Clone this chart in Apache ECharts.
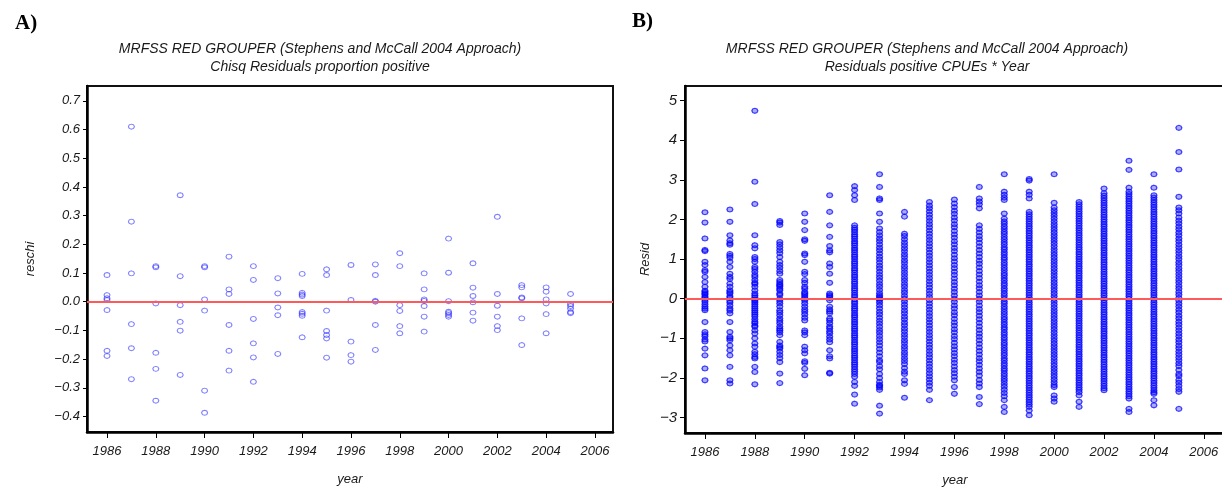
<!DOCTYPE html>
<html>
<head>
<meta charset="utf-8">
<script src="https://cdn.jsdelivr.net/npm/echarts@6/dist/echarts.min.js"></script>
<style>html,body{margin:0;padding:0;background:#fff}#c{width:1222px;height:489px}</style>
</head>
<body>
<div id="c"></div>
<script>
// ---------- DATA ----------
const years = [1986,1987,1988,1989,1990,1991,1992,1993,1994,1995,1996,1997,1998,1999,2000,2001,2002,2003,2004,2005];
const xTicks = [1986,1988,1990,1992,1994,1996,1998,2000,2002,2004,2006];
const yTicksA = [-0.4,-0.3,-0.2,-0.1,0,0.1,0.2,0.3,0.4,0.5,0.6,0.7];
const yTicksB = [-3,-2,-1,0,1,2,3,4,5];

// Panel A: chi-square residuals (proportion positive), one list per year
const reschiByYear = [
  [0.093,0.023,0.012,0.006,-0.029,-0.171,-0.189],
  [0.61,0.279,0.099,-0.078,-0.162,-0.27],
  [0.124,0.12,-0.006,-0.178,-0.234,-0.345],
  [0.371,0.089,-0.012,-0.07,-0.101,-0.255],
  [0.124,0.12,0.008,-0.031,-0.31,-0.387],
  [0.157,0.043,0.027,-0.081,-0.171,-0.24],
  [0.124,0.076,-0.06,-0.145,-0.194,-0.279],
  [0.082,0.029,-0.02,-0.047,-0.182],
  [0.097,0.031,0.025,0.02,-0.036,-0.042,-0.049,-0.124],
  [0.113,0.093,-0.031,-0.102,-0.116,-0.128,-0.195],
  [0.128,0.006,-0.139,-0.186,-0.209],
  [0.13,0.093,0.003,0.0,-0.081,-0.168],
  [0.169,0.124,-0.012,-0.032,-0.085,-0.11],
  [0.099,0.043,0.008,0.003,-0.015,-0.052,-0.104],
  [0.22,0.101,0.002,-0.035,-0.04,-0.046,-0.052],
  [0.134,0.049,0.02,-0.002,-0.038,-0.066],
  [0.296,0.027,-0.014,-0.052,-0.085,-0.099],
  [0.058,0.05,0.015,0.012,-0.058,-0.151],
  [0.05,0.035,0.008,-0.006,-0.043,-0.11],
  [0.027,-0.008,-0.015,-0.024,-0.036,-0.04]
];

// Panel B: residuals of positive CPUEs, one list per year
const residByYear = [
  [2.18,1.92,1.52,1.23,1.2,0.93,0.85,0.72,0.68,0.55,0.42,0.3,0.2,0.17,0.13,0.1,0.05,0.02,-0.03,-0.08,-0.14,-0.2,-0.25,-0.29,-0.59,-0.84,-0.9,-0.95,-1.03,-1.08,-1.26,-1.43,-1.76,-2.06],
  [2.25,1.94,1.6,1.47,1.4,1.36,1.13,1.08,1.03,0.93,0.8,0.63,0.55,0.5,0.38,0.3,0.21,0.17,0.13,0.06,0.02,-0.05,-0.1,-0.17,-0.25,-0.3,-0.37,-0.59,-0.84,-0.96,-1.0,-1.05,-1.18,-1.3,-1.43,-1.72,-2.06,-2.14],
  [4.74,2.95,2.39,1.6,1.35,1.27,1.05,1.0,0.93,0.8,0.75,0.68,0.6,0.55,0.47,0.4,0.37,0.3,0.21,0.13,0.08,0.03,-0.02,-0.06,-0.1,-0.15,-0.2,-0.25,-0.3,-0.35,-0.4,-0.45,-0.52,-0.58,-0.62,-0.68,-0.71,-0.8,-0.88,-1.0,-1.13,-1.21,-1.34,-1.4,-1.47,-1.51,-1.72,-1.85,-2.16],
  [1.96,1.92,1.86,1.43,1.37,1.3,1.22,1.15,1.05,0.93,0.85,0.78,0.7,0.63,0.47,0.42,0.37,0.34,0.3,0.25,0.21,0.13,0.09,0.0,-0.06,-0.12,-0.2,-0.29,-0.35,-0.42,-0.5,-0.56,-0.62,-0.7,-0.76,-0.8,-0.85,-0.92,-1.09,-1.18,-1.22,-1.26,-1.34,-1.42,-1.5,-1.6,-1.89,-2.13],
  [2.15,1.94,1.73,1.5,1.46,1.14,1.1,0.93,0.68,0.62,0.47,0.4,0.3,0.25,0.17,0.13,0.09,0.04,0.0,-0.05,-0.12,-0.2,-0.27,-0.33,-0.4,-0.48,-0.55,-0.8,-0.85,-0.92,-1.21,-1.3,-1.38,-1.58,-1.62,-1.77,-1.93],
  [2.61,2.19,1.85,1.56,1.33,1.22,1.17,0.89,0.8,0.63,0.4,0.13,0.09,0.06,0.02,-0.04,-0.2,-0.27,-0.32,-0.37,-0.5,-0.55,-0.62,-0.7,-0.75,-0.82,-0.88,-0.96,-1.03,-1.1,-1.3,-1.45,-1.51,-1.87,-1.89],
  [2.84,2.74,2.61,2.49,1.85,1.79,1.74,1.68,1.62,1.57,1.51,1.45,1.4,1.34,1.28,1.23,1.17,1.11,1.06,1.0,0.94,0.89,0.83,0.77,0.72,0.66,0.6,0.55,0.49,0.43,0.38,0.32,0.26,0.21,0.15,0.09,0.04,-0.02,-0.08,-0.13,-0.19,-0.25,-0.3,-0.36,-0.42,-0.47,-0.53,-0.59,-0.64,-0.7,-0.76,-0.81,-0.87,-0.93,-0.98,-1.04,-1.1,-1.15,-1.21,-1.27,-1.32,-1.38,-1.44,-1.49,-1.55,-1.61,-1.66,-1.72,-1.78,-1.84,-1.9,-1.97,-2.1,-2.2,-2.42,-2.65],
  [3.14,2.82,2.53,2.49,2.15,1.94,1.77,1.68,1.6,1.52,1.45,1.37,1.29,1.22,1.14,1.06,0.99,0.91,0.83,0.76,0.68,0.6,0.53,0.45,0.37,0.3,0.22,0.14,0.08,0.04,0.0,-0.04,-0.1,-0.17,-0.25,-0.33,-0.4,-0.48,-0.56,-0.63,-0.71,-0.79,-0.86,-0.94,-1.02,-1.1,-1.18,-1.27,-1.36,-1.45,-1.55,-1.6,-1.7,-1.78,-1.9,-2.0,-2.1,-2.17,-2.2,-2.24,-2.3,-2.7,-2.9],
  [2.19,2.07,1.64,1.58,1.5,1.42,1.35,1.27,1.2,1.12,1.05,0.97,0.9,0.82,0.75,0.67,0.6,0.52,0.45,0.37,0.3,0.22,0.15,0.07,0.0,-0.07,-0.15,-0.22,-0.3,-0.37,-0.45,-0.52,-0.6,-0.67,-0.75,-0.82,-0.9,-0.97,-1.05,-1.12,-1.2,-1.27,-1.35,-1.42,-1.5,-1.57,-1.65,-1.75,-1.84,-1.9,-2.06,-2.15,-2.5],
  [2.44,2.35,2.28,2.2,2.12,2.04,1.96,1.88,1.8,1.72,1.64,1.56,1.48,1.4,1.32,1.24,1.16,1.08,1.0,0.92,0.84,0.76,0.68,0.6,0.52,0.44,0.36,0.28,0.2,0.12,0.04,-0.04,-0.12,-0.2,-0.28,-0.36,-0.44,-0.52,-0.6,-0.68,-0.76,-0.84,-0.92,-1.0,-1.08,-1.16,-1.24,-1.32,-1.4,-1.48,-1.56,-1.64,-1.72,-1.8,-1.88,-1.96,-2.04,-2.12,-2.2,-2.3,-2.56],
  [2.5,2.4,2.31,2.22,2.14,2.05,1.97,1.88,1.8,1.71,1.62,1.54,1.45,1.37,1.28,1.2,1.11,1.02,0.94,0.85,0.77,0.68,0.6,0.51,0.42,0.34,0.25,0.17,0.08,0.0,-0.08,-0.17,-0.25,-0.34,-0.42,-0.51,-0.6,-0.68,-0.77,-0.85,-0.94,-1.02,-1.11,-1.2,-1.28,-1.37,-1.45,-1.54,-1.62,-1.71,-1.8,-1.88,-1.97,-2.06,-2.23,-2.4],
  [2.82,2.53,2.45,2.38,2.28,1.85,1.76,1.67,1.58,1.5,1.41,1.32,1.23,1.14,1.05,0.96,0.88,0.79,0.7,0.61,0.52,0.43,0.34,0.26,0.17,0.08,0.0,-0.08,-0.17,-0.26,-0.34,-0.43,-0.52,-0.61,-0.7,-0.79,-0.88,-0.96,-1.05,-1.14,-1.23,-1.32,-1.41,-1.5,-1.58,-1.67,-1.76,-1.85,-1.94,-2.05,-2.14,-2.23,-2.48,-2.66],
  [3.14,2.7,2.62,2.55,2.49,2.15,2.02,1.95,1.89,1.82,1.76,1.69,1.63,1.56,1.5,1.43,1.37,1.3,1.24,1.17,1.11,1.04,0.98,0.91,0.85,0.78,0.72,0.65,0.59,0.52,0.46,0.39,0.33,0.26,0.2,0.13,0.07,0.0,-0.07,-0.13,-0.2,-0.26,-0.33,-0.39,-0.46,-0.52,-0.59,-0.65,-0.72,-0.78,-0.85,-0.91,-0.98,-1.04,-1.11,-1.17,-1.24,-1.3,-1.37,-1.43,-1.5,-1.56,-1.63,-1.69,-1.76,-1.82,-1.89,-1.95,-2.02,-2.08,-2.15,-2.22,-2.3,-2.38,-2.46,-2.56,-2.73,-2.86],
  [3.02,2.98,2.7,2.62,2.53,2.19,2.13,2.07,2.01,1.95,1.89,1.83,1.77,1.71,1.65,1.59,1.53,1.47,1.41,1.35,1.29,1.23,1.17,1.11,1.05,0.99,0.93,0.87,0.81,0.75,0.69,0.63,0.57,0.51,0.45,0.39,0.33,0.27,0.21,0.15,0.09,0.03,-0.03,-0.09,-0.15,-0.21,-0.27,-0.33,-0.39,-0.45,-0.51,-0.57,-0.63,-0.69,-0.75,-0.81,-0.87,-0.93,-0.99,-1.05,-1.11,-1.17,-1.23,-1.29,-1.35,-1.41,-1.47,-1.53,-1.59,-1.65,-1.71,-1.77,-1.83,-1.89,-1.95,-2.01,-2.07,-2.13,-2.19,-2.25,-2.31,-2.37,-2.43,-2.49,-2.55,-2.61,-2.67,-2.73,-2.82,-2.94],
  [3.14,2.42,2.3,2.23,2.16,2.09,2.02,1.95,1.88,1.81,1.74,1.67,1.6,1.53,1.46,1.39,1.32,1.25,1.18,1.11,1.04,0.97,0.9,0.83,0.76,0.69,0.62,0.55,0.48,0.41,0.34,0.27,0.2,0.13,0.06,-0.01,-0.08,-0.15,-0.22,-0.29,-0.36,-0.43,-0.5,-0.57,-0.64,-0.71,-0.78,-0.85,-0.92,-0.99,-1.06,-1.13,-1.2,-1.27,-1.34,-1.41,-1.48,-1.55,-1.62,-1.69,-1.76,-1.83,-1.9,-1.97,-2.04,-2.11,-2.18,-2.23,-2.44,-2.52,-2.6],
  [2.44,2.38,2.32,2.26,2.2,2.14,2.08,2.02,1.96,1.9,1.84,1.78,1.72,1.66,1.6,1.54,1.48,1.42,1.36,1.3,1.24,1.18,1.12,1.06,1.0,0.94,0.88,0.82,0.76,0.7,0.64,0.58,0.52,0.46,0.4,0.34,0.28,0.22,0.16,0.1,0.04,-0.02,-0.08,-0.14,-0.2,-0.26,-0.32,-0.38,-0.44,-0.5,-0.56,-0.62,-0.68,-0.74,-0.8,-0.86,-0.92,-0.98,-1.04,-1.1,-1.16,-1.22,-1.28,-1.34,-1.4,-1.46,-1.52,-1.58,-1.64,-1.7,-1.76,-1.82,-1.88,-1.94,-2.0,-2.06,-2.12,-2.18,-2.24,-2.3,-2.36,-2.44,-2.6,-2.73],
  [2.78,2.66,2.6,2.54,2.48,2.42,2.36,2.3,2.24,2.18,2.12,2.06,2.0,1.94,1.88,1.82,1.76,1.7,1.64,1.58,1.52,1.46,1.4,1.34,1.28,1.22,1.16,1.1,1.04,0.98,0.92,0.86,0.8,0.74,0.68,0.62,0.56,0.5,0.44,0.38,0.32,0.26,0.2,0.14,0.08,0.02,-0.04,-0.1,-0.16,-0.22,-0.28,-0.34,-0.4,-0.46,-0.52,-0.58,-0.64,-0.7,-0.76,-0.82,-0.88,-0.94,-1.0,-1.06,-1.12,-1.18,-1.24,-1.3,-1.36,-1.42,-1.48,-1.54,-1.6,-1.66,-1.72,-1.78,-1.84,-1.9,-1.96,-2.02,-2.08,-2.14,-2.2,-2.26,-2.31],
  [3.48,3.25,2.8,2.7,2.64,2.58,2.52,2.46,2.4,2.34,2.28,2.22,2.16,2.1,2.04,1.98,1.92,1.86,1.8,1.74,1.68,1.62,1.56,1.5,1.44,1.38,1.32,1.26,1.2,1.14,1.08,1.02,0.96,0.9,0.84,0.78,0.72,0.66,0.6,0.54,0.48,0.42,0.36,0.3,0.24,0.18,0.12,0.06,0.0,-0.06,-0.12,-0.18,-0.24,-0.3,-0.36,-0.42,-0.48,-0.54,-0.6,-0.66,-0.72,-0.78,-0.84,-0.9,-0.96,-1.02,-1.08,-1.14,-1.2,-1.26,-1.32,-1.38,-1.44,-1.5,-1.56,-1.62,-1.68,-1.74,-1.8,-1.86,-1.92,-1.98,-2.04,-2.1,-2.16,-2.22,-2.28,-2.34,-2.4,-2.46,-2.52,-2.78,-2.86],
  [3.14,2.8,2.61,2.55,2.49,2.43,2.37,2.31,2.25,2.19,2.13,2.07,2.01,1.95,1.89,1.83,1.77,1.71,1.65,1.59,1.53,1.47,1.41,1.35,1.29,1.23,1.17,1.11,1.05,0.99,0.93,0.87,0.81,0.75,0.69,0.63,0.57,0.51,0.45,0.39,0.33,0.27,0.21,0.15,0.09,0.03,-0.03,-0.09,-0.15,-0.21,-0.27,-0.33,-0.39,-0.45,-0.51,-0.57,-0.63,-0.69,-0.75,-0.81,-0.87,-0.93,-0.99,-1.05,-1.11,-1.17,-1.23,-1.29,-1.35,-1.41,-1.47,-1.53,-1.59,-1.65,-1.71,-1.77,-1.83,-1.89,-1.95,-2.01,-2.07,-2.13,-2.19,-2.25,-2.31,-2.36,-2.4,-2.56,-2.69],
  [4.31,3.7,3.26,2.57,2.3,2.23,2.15,2.05,1.97,1.9,1.82,1.75,1.67,1.6,1.52,1.45,1.37,1.3,1.22,1.15,1.07,1.0,0.92,0.85,0.77,0.7,0.62,0.55,0.47,0.4,0.32,0.25,0.17,0.1,0.02,-0.05,-0.13,-0.2,-0.28,-0.35,-0.43,-0.5,-0.58,-0.65,-0.73,-0.8,-0.88,-0.95,-1.03,-1.1,-1.18,-1.25,-1.33,-1.4,-1.48,-1.55,-1.63,-1.7,-1.8,-1.9,-1.95,-2.05,-2.12,-2.2,-2.28,-2.35,-2.78]
];

// ---------- CHART ----------
function toPoints(byYear){
  const out = [];
  years.forEach((y,i)=>byYear[i].forEach(v=>out.push([y,v])));
  return out;
}
const minus = s => String(s).replace('-', '\u2212');
const FONT = 'Liberation Sans';
const tickLbl = {fontStyle:'italic', fontSize:13, color:'#1a1a1a', fontFamily:FONT};
const sym = 'path://M0,-5 L3,-3.6 L4.2,0 L3,3.6 L0,5 L-3,3.6 L-4.2,0 L-3,-3.6 Z';
const zeroLine = {silent:true, symbol:'none', label:{show:false},
  lineStyle:{color:'#ff5a5a', width:2, type:'solid'}, data:[{yAxis:0}]};

function xAx(grid, min, max){
  return {type:'value', gridIndex:grid, min:min, max:max,
    name:'year', nameLocation:'middle', nameGap:41,
    nameTextStyle:{fontStyle:'italic', fontSize:13, color:'#1a1a1a', fontFamily:FONT},
    axisLine:{show:true, onZero:false, lineStyle:{color:'#000', width:2.5}},
    axisTick:{show:true, length:6, customValues:xTicks, lineStyle:{color:'#000', width:1}},
    axisLabel:Object.assign({customValues:xTicks, margin:13, formatter:v=>String(v)}, tickLbl),
    splitLine:{show:false}};
}

const chart = echarts.init(document.getElementById('c'), null, {renderer:'canvas'});
chart.setOption({
  animation:false,
  backgroundColor:'#fff',
  title:[
    {text:'A)', left:10, top:8, textStyle:{fontFamily:'Liberation Serif', fontWeight:'bold', fontSize:21, color:'#000'}},
    {text:'B)', left:627, top:6, textStyle:{fontFamily:'Liberation Serif', fontWeight:'bold', fontSize:21, color:'#000'}},
    {text:'MRFSS RED GROUPER (Stephens and McCall 2004 Approach)\nChisq Residuals proportion positive',
      left:315, top:35, textAlign:'center',
      textStyle:{fontFamily:FONT, fontStyle:'italic', fontWeight:'normal', fontSize:14, lineHeight:18, color:'#1a1a1a'}},
    {text:'MRFSS RED GROUPER (Stephens and McCall 2004 Approach)\nResiduals positive CPUEs * Year',
      left:922, top:35, textAlign:'center',
      textStyle:{fontFamily:FONT, fontStyle:'italic', fontWeight:'normal', fontSize:14, lineHeight:18, color:'#1a1a1a'}}
  ],
  grid:[
    {left:87, top:86, width:526, height:346, show:true, borderColor:'#111', borderWidth:2, backgroundColor:'#fff',
      outerBoundsMode:'none', containLabel:false},
    {left:685, top:86, width:540, height:347, show:true, borderColor:'#111', borderWidth:2, backgroundColor:'#fff',
      outerBoundsMode:'none', containLabel:false}
  ],
  xAxis:[ xAx(0, 1985.18, 2006.74), xAx(1, 1985.2, 2006.85) ],
  yAxis:[
    {type:'value', gridIndex:0, min:-0.454, max:0.7517,
      name:'reschi', nameLocation:'middle', nameGap:50, nameRotate:90,
      nameTextStyle:{fontStyle:'italic', fontSize:13, color:'#1a1a1a', fontFamily:FONT},
      axisLine:{show:true, onZero:false, lineStyle:{color:'#000', width:2.5}},
      axisTick:{show:true, length:4, customValues:yTicksA, lineStyle:{color:'#000'}},
      axisLabel:Object.assign({customValues:yTicksA, margin:7, formatter:v=>minus(Number(v).toFixed(1))}, tickLbl),
      splitLine:{show:false}},
    {type:'value', gridIndex:1, min:-3.389, max:5.366,
      name:'Resid', nameLocation:'middle', nameGap:33, nameRotate:90,
      nameTextStyle:{fontStyle:'italic', fontSize:13, color:'#1a1a1a', fontFamily:FONT},
      axisLine:{show:true, onZero:false, lineStyle:{color:'#000', width:2.5}},
      axisTick:{show:true, length:5, customValues:yTicksB, lineStyle:{color:'#000'}},
      axisLabel:Object.assign({customValues:yTicksB, margin:8, formatter:v=>minus(Math.round(v))}, tickLbl, {fontSize:15}),
      splitLine:{show:false}}
  ],
  series:[
    {type:'scatter', xAxisIndex:0, yAxisIndex:0, data:toPoints(reschiByYear),
      symbol:sym, symbolSize:[6,5],
      itemStyle:{color:'rgba(0,0,0,0)', borderColor:'rgba(40,40,255,0.75)', borderWidth:1},
      markLine:zeroLine, z:3},
    {type:'scatter', xAxisIndex:1, yAxisIndex:1, data:toPoints(residByYear),
      symbol:sym, symbolSize:[6,5],
      itemStyle:{color:'rgba(0,0,255,0.4)', borderColor:'rgba(0,0,255,0.9)', borderWidth:1.2},
      markLine:zeroLine, large:false, z:3}
  ]
});
</script>
</body>
</html>
